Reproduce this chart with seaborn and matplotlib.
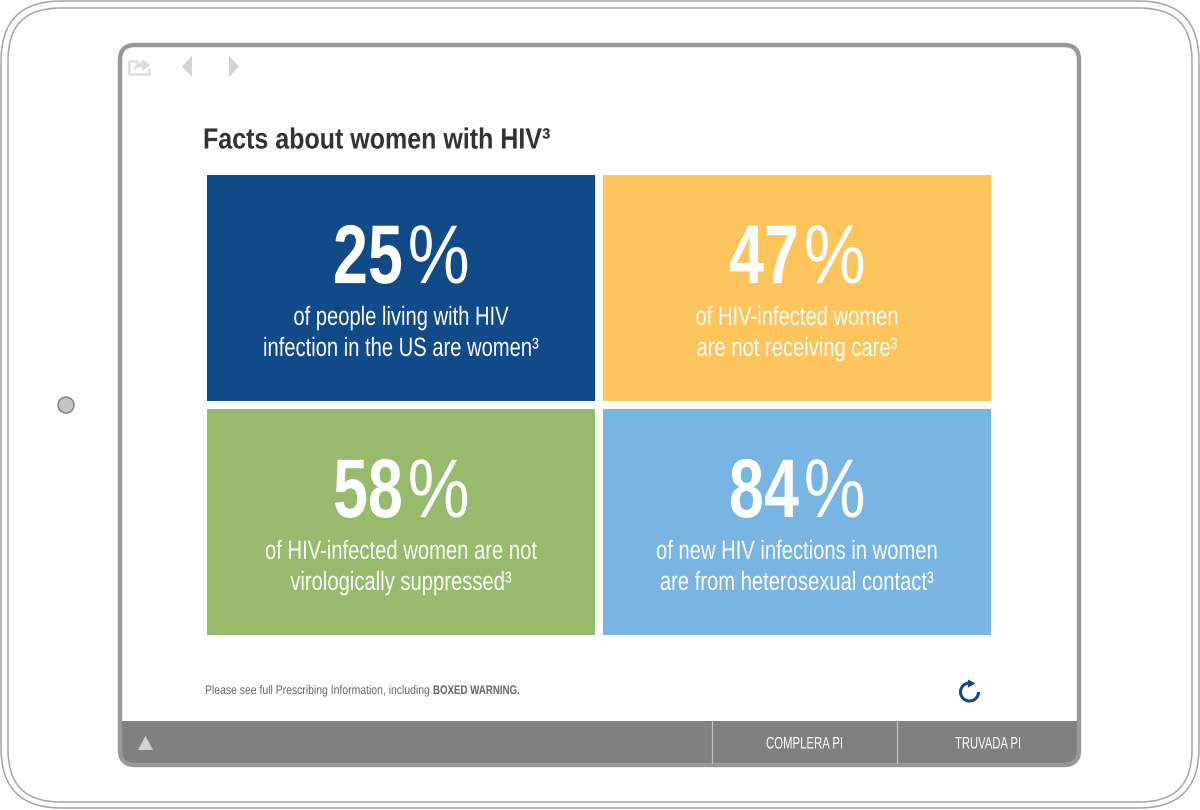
import matplotlib
matplotlib.use('Agg')
import matplotlib.pyplot as plt
import matplotlib.patheffects as pe
from matplotlib.colors import ListedColormap
from matplotlib.patches import FancyBboxPatch, Polygon, Arc, Circle
from matplotlib.transforms import Affine2D
import seaborn as sns

# values from the picture
percents = [[25, 47], [58, 84]]
captions = [["of people living with HIV\ninfection in the US are women³",
             "of HIV-infected women\nare not receiving care³"],
            ["of HIV-infected women are not\nvirologically suppressed³",
             "of new HIV infections in women\nare from heterosexual contact³"]]
tile_colors = ["#114A88", "#FEC55C", "#97BB6D", "#78B5E3"]
title = "Facts about women with HIV³"
footer = ["Please see full Prescribing Information, including", "BOXED WARNING."]
buttons = ["COMPLERA PI", "TRUVADA PI"]


class Squeeze(pe.AbstractPathEffect):
    # no condensed font is installed, so narrow the glyphs around the anchor
    def __init__(self, factor, x0):
        super().__init__()
        self.factor = factor
        self.x0 = x0

    def draw_path(self, renderer, gc, tpath, affine, rgbFace=None):
        squeeze = Affine2D().translate(-self.x0, 0).scale(self.factor, 1).translate(self.x0, 0)
        renderer.draw_path(gc, tpath, affine + squeeze, rgbFace)


def narrow(txt, width):
    # squeeze a text to the pixel width it has in the reference
    fig.canvas.draw()
    x0 = txt.get_transform().transform(txt.get_position())[0]
    txt.set_path_effects([Squeeze(width / txt.get_window_extent().width, x0)])


sns.set_theme(style="white")
plt.rcParams['font.family'] = ['Liberation Sans', 'DejaVu Sans']

fig = plt.figure(figsize=(12, 8.1), dpi=100)
bg = fig.add_axes([0, 0, 1, 1])
bg.set_xlim(0, 1200)
bg.set_ylim(810, 0)
bg.axis('off')

# tablet outline
bg.add_patch(FancyBboxPatch((1, 1), 1198, 807, boxstyle="round,pad=0,rounding_size=60",
                            fc='white', ec='#a5a5a5', lw=1.1))
bg.add_patch(FancyBboxPatch((8, 8), 1184, 794, boxstyle="round,pad=0,rounding_size=52",
                            fc='none', ec='#a5a5a5', lw=1.1))
bg.add_patch(Circle((66, 405), 8, fc='#c4c4c4', ec='#808080', lw=1))

# bottom bar and screen frame
bg.add_patch(FancyBboxPatch((121, 721), 957, 43, boxstyle="round,pad=0,rounding_size=12",
                            fc='#808080', ec='none'))
bg.fill_between([121, 1078], 721, 745, color='#808080', lw=0)
bg.add_patch(FancyBboxPatch((120, 45), 959, 720, boxstyle="round,pad=0,rounding_size=15",
                            fc='none', ec='#999999', lw=3.2))
for x in [712, 897]:
    bg.plot([x, x], [721, 763], color='#c4c4c4', lw=0.9)
bg.add_patch(Polygon([[138, 750], [153, 750], [145.5, 736]], fc='#d2d3d5', ec='none'))
for x, label, w in zip([804.5, 988], buttons, [77, 66]):
    narrow(bg.text(x, 744, label, color='white', fontsize=12, ha='center', va='center'), w)

# top icons
bg.add_patch(Polygon([[192, 56], [192, 77], [182, 66.5]], fc='#d2d3d5', ec='none'))
bg.add_patch(Polygon([[229, 56], [229, 77], [239, 66.5]], fc='#d2d3d5', ec='none'))
bg.plot([137, 128.5, 128.5, 148.5, 148.5], [60.5, 60.5, 74, 74, 69], color='#dcdddf', lw=1.8,
        solid_joinstyle='miter')
bg.add_patch(Polygon([[142, 59], [142, 62], [137, 63], [133, 71], [138, 67.5], [142, 67], [142, 71], [150.5, 65]],
                     fc='#dcdddf', ec='none'))

narrow(bg.text(203, 140.5, title, color='#333333', fontsize=21, fontweight='bold', va='center', ha='left'), 347)

# footer
narrow(bg.text(431, 691, footer[0], color='#666666', fontsize=9, va='center', ha='right'), 226)
narrow(bg.text(433, 691, footer[1], color='#666666', fontsize=9, fontweight='bold', va='center', ha='left'), 87)

# refresh icon
bg.add_patch(Arc((969.5, 692), 18, 18, theta1=0, theta2=262, ec='#114A88', lw=2.2))
bg.add_patch(Polygon([[968, 679.5], [968, 687.5], [975.5, 683.5]], fc='#114A88', ec='none'))

# tiles, clipped grid lines eat 4 px on the outer edge
ax = fig.add_axes([203 / 1200, 1 - 639 / 810, 792 / 1200, 468 / 810])
sns.heatmap(percents, ax=ax, cmap=ListedColormap(tile_colors), vmin=25, vmax=84, cbar=False,
            linewidths=5.76, linecolor='white', xticklabels=False, yticklabels=False)
for row in range(2):
    for col in range(2):
        # bold digits with a lighter percent sign, as in the reference
        num = ax.text(col + 0.505, row + 0.385, f"{percents[row][col]}", color='white', fontsize=60,
                      fontweight='bold', ha='right', va='center')
        narrow(num, 70)
        sign = ax.text(col + 0.517, row + 0.385, "%", color='white', fontsize=60, ha='left', va='center')
        narrow(sign, 62)
        cap = ax.text(col + 0.5, row + 0.694, captions[row][col], color='white', fontsize=19,
                      ha='center', va='center', linespacing=1.37)
        narrow(cap, [[276, 203], [272, 282]][row][col])

fig.savefig('out.png', dpi=100)
